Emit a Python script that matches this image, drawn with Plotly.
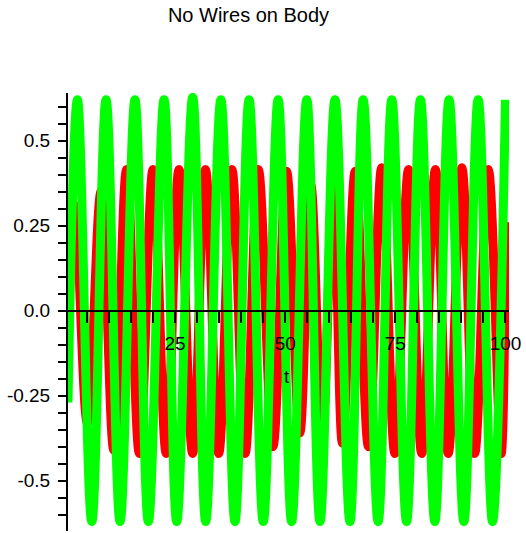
import numpy as np
import plotly.graph_objects as go

# ---- data (extremes of each oscillation) ----
green_t = [0.7, 2.84, 6.1, 9.34, 12.52, 15.9, 18.94, 22.5, 25.38, 29.0, 31.96,
           35.4, 38.6, 41.8, 45.02, 48.4, 51.46, 54.9, 57.9, 61.3, 64.7,
           67.7, 71.1, 74.2, 77.55, 80.7, 83.97, 87.2, 90.55, 93.8, 97.05, 100.0]
green_y = [-0.27, 0.62, -0.62, 0.62, -0.62, 0.62, -0.62, 0.62, -0.62, 0.627, -0.62,
           0.62, -0.62, 0.62, -0.62, 0.62, -0.62, 0.62, -0.62, 0.62, -0.62,
           0.62, -0.62, 0.62, -0.62, 0.62, -0.62, 0.62, -0.62, 0.62, -0.62, 0.62]

red_t = [0.7, 2.2, 5.1, 8.2, 11.1, 14.0, 16.9, 20.0, 23.0, 25.9, 29.0, 31.9,
         34.9, 37.9, 40.9, 43.9, 47.2, 50.3, 53.3, 55.8, 58.4, 60.9, 63.0,
         65.9, 68.9, 71.9, 74.9, 78.0, 81.0, 84.1, 87.0, 90.1, 93.0, 96.1,
         99.0, 100.0]
red_y = [0.0, 0.31, -0.33, 0.35, -0.41, 0.415, -0.42, 0.415, -0.42, 0.415, -0.42, 0.415,
         -0.42, 0.415, -0.42, 0.415, -0.40, 0.41, -0.36, 0.37, -0.36, 0.37, -0.39,
         0.41, -0.40, 0.42, -0.42, 0.415, -0.42, 0.415, -0.42, 0.42, -0.42, 0.415,
         -0.42, 0.26]

y_tick_vals = [-0.5, -0.25, 0.0, 0.25, 0.5]
y_tick_text = ["-0.5", "-0.25", "0.0", "0.25", "0.5"]
x_tick_vals = [25, 50, 75, 100]
x_tick_text = ["25", "50", "75", "100"]

title_text = "No Wires on Body"
x_label = "t"

FONT = "Liberation Sans"
X_RANGE = [0.7, 100.8]
Y_RANGE = [-0.648, 0.640]

fig = go.Figure()
fig.add_trace(go.Scatter(x=red_t, y=red_y, mode="lines",
                         line=dict(color="#ff0000", width=9, shape="spline", smoothing=1.1),
                         showlegend=False, hoverinfo="skip"))
fig.add_trace(go.Scatter(x=green_t, y=green_y, mode="lines",
                         line=dict(color="#00ff00", width=9, shape="spline", smoothing=1.1),
                         showlegend=False, hoverinfo="skip"))

zero_pos = (0 - Y_RANGE[0]) / (Y_RANGE[1] - Y_RANGE[0])

fig.update_layout(
    width=526, height=533,
    margin=dict(l=68, r=16.7, t=93, b=2, autoexpand=False),
    paper_bgcolor="white", plot_bgcolor="white",
    font=dict(family=FONT, size=19, color="black"),
    title=dict(text=title_text, x=248.5 / 526, xanchor="center",
               y=1 - 15 / 533, yanchor="middle",
               font=dict(family=FONT, size=20, color="black")),
    xaxis=dict(range=X_RANGE, anchor="free", position=zero_pos,
               showline=True, linecolor="black", linewidth=2,
               showgrid=False, zeroline=False,
               tickmode="array", tickvals=x_tick_vals, ticktext=x_tick_text,
               ticks="outside", ticklen=11, tickwidth=2, tickcolor="black",
               ticklabelstandoff=5,
               minor=dict(tickmode="array", tickvals=list(np.arange(5, 101, 5)),
                          ticks="outside", ticklen=11, tickwidth=2, tickcolor="black",
                          showgrid=False),
               tickfont=dict(family=FONT, size=19, color="black")),
    yaxis=dict(range=Y_RANGE, showline=True, linecolor="black", linewidth=2,
               showgrid=False, zeroline=False,
               tickmode="array", tickvals=y_tick_vals, ticktext=y_tick_text,
               ticks="outside", ticklen=8, tickwidth=2, tickcolor="black",
               ticklabelstandoff=4,
               minor=dict(tickmode="array",
                          tickvals=[round(v, 2) for v in np.arange(-0.6, 0.61, 0.05)],
                          ticks="outside", ticklen=8, tickwidth=2, tickcolor="black",
                          showgrid=False),
               tickfont=dict(family=FONT, size=19, color="black")),
    annotations=[dict(text=x_label, x=50.3, y=-0.194, xref="x", yref="y",
                      showarrow=False, xanchor="center", yanchor="middle",
                      font=dict(family=FONT, size=19, color="black"))],
)

fig.write_html("out.html",
               config={"displayModeBar": False},
               post_script="document.body.style.margin='0';document.body.style.overflow='hidden';")
